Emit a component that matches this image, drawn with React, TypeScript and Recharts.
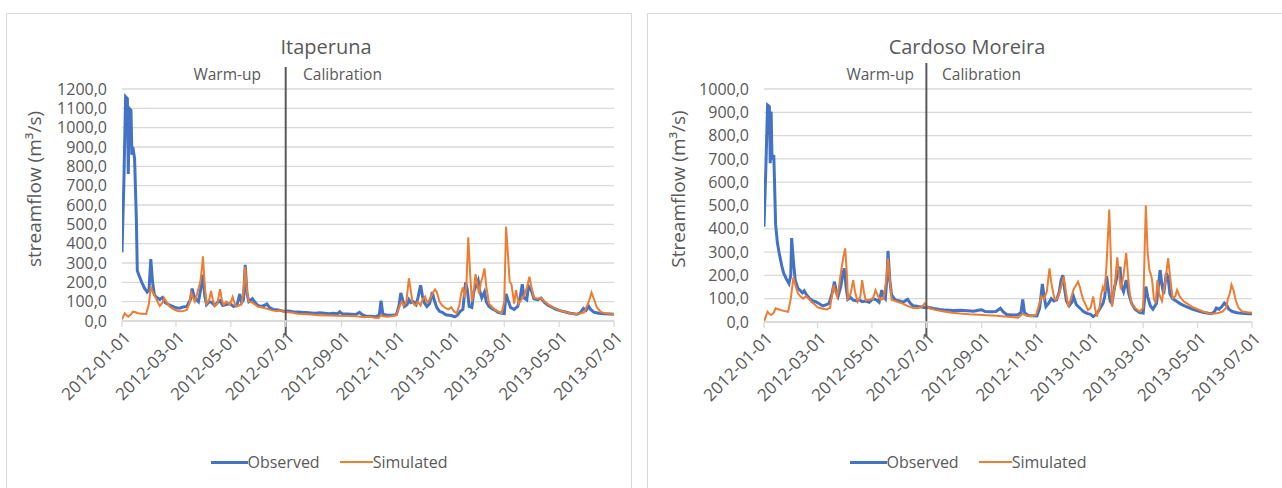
import { LineChart, Line, XAxis, YAxis, CartesianGrid, ReferenceLine } from "recharts";

// day 0 = 2012-01-01
const TICK_DAYS = [0, 60, 121, 182, 244, 305, 366, 425, 486, 547];
const TICK_LABELS = [
  "2012-01-01", "2012-03-01", "2012-05-01", "2012-07-01", "2012-09-01",
  "2012-11-01", "2013-01-01", "2013-03-01", "2013-05-01", "2013-07-01",
];
const SPLIT_DAY = 182;

const ITA_Y_TICKS = [0, 100, 200, 300, 400, 500, 600, 700, 800, 900, 1000, 1100, 1200];
const CM_Y_TICKS = [0, 100, 200, 300, 400, 500, 600, 700, 800, 900, 1000];

// Itaperuna
const itaObsDays = [
  0, 2, 4, 6, 7, 8, 10, 11, 12, 14, 16, 17, 19, 22, 25, 28, 30, 32, 34, 36, 39, 42, 45, 48, 52, 55, 60, 64, 68, 72,
  76, 78, 80, 83, 85, 87, 89, 90, 92, 94, 97, 100, 103, 106, 109, 112, 116, 120, 124, 128, 131, 133, 135, 137, 139,
  141, 145, 148, 151, 155, 158, 161, 164, 168, 172, 176, 180, 185, 190, 195, 200, 205, 210, 215, 220, 225, 230, 235,
  240, 242, 245, 250, 255, 260, 264, 267, 271, 276, 282, 286, 288, 290, 295, 300, 305, 308, 310, 312, 314, 317, 319,
  321, 324, 327, 329, 332, 334, 336, 339, 342, 345, 347, 350, 353, 356, 360, 363, 366, 370, 373, 376, 379, 382, 384,
  386, 389, 391, 393, 396, 398, 400, 403, 405, 408, 412, 415, 418, 422, 425, 427, 429, 432, 436, 440, 443, 445, 447,
  450, 452, 455, 458, 462, 466, 470, 474, 478, 482, 486, 490, 494, 498, 502, 506, 510, 513, 516, 519, 521, 525, 530,
  536, 542, 547,
];
const itaObsFlow = [
  355, 700, 1160, 1150, 760, 1100, 1090, 860, 900, 840, 520, 260, 235, 200, 170, 150, 160, 320, 200, 135, 120, 112, 122, 95, 85, 78, 68, 66, 72, 75,
  110, 168, 130, 110, 100, 150, 200, 240, 130, 85, 100, 95, 80, 95, 105, 80, 85, 90, 75, 85, 140, 95, 110, 290, 140,
  100, 115, 95, 80, 75, 80, 88, 70, 60, 58, 55, 50, 52, 48, 47, 45, 44, 42, 40, 42, 40, 38, 40,
  38, 48, 37, 36, 35, 34, 45, 33, 25, 24, 22, 30, 105, 35, 30, 30, 33, 80, 145, 110, 75, 85, 110,
  95, 100, 85, 120, 185, 130, 95, 75, 90, 150, 110, 70, 50, 45, 32, 30, 28, 22, 30, 50, 60, 200, 160,
  75, 70, 150, 175, 210, 150, 120, 150, 100, 75, 62, 55, 45, 40, 38, 140, 110, 70, 60, 75, 130, 190, 120,
  110, 180, 160, 115, 110, 118, 95, 80, 72, 62, 55, 50, 45, 40, 38, 35, 45, 65, 55, 75, 60, 45, 40,
  37, 36, 35,
];
const itaSimDays = [
  0, 3, 5, 7, 10, 12, 15, 18, 22, 27, 30, 32, 34, 37, 40, 42, 45, 47, 50, 53, 57, 62, 67, 72, 75, 77, 79, 81, 84, 87,
  89, 90, 92, 94, 97, 99, 101, 103, 106, 109, 111, 113, 116, 120, 123, 125, 127, 130, 133, 135, 137, 139, 141, 145,
  148, 151, 156, 160, 163, 167, 172, 176, 180, 185, 190, 195, 200, 210, 220, 230, 240, 250, 260, 270, 275, 280, 285,
  288, 290, 295, 300, 305, 308, 311, 313, 316, 319, 321, 323, 326, 329, 332, 334, 337, 339, 342, 345, 348, 350, 353,
  356, 360, 363, 366, 369, 372, 375, 377, 379, 381, 383, 385, 387, 389, 391, 393, 395, 397, 399, 401, 403, 405, 408,
  412, 415, 418, 422, 425, 427, 429, 431, 433, 436, 438, 441, 444, 447, 450, 453, 455, 458, 462, 466, 470, 474, 478,
  482, 486, 490, 494, 498, 502, 506, 510, 514, 517, 519, 522, 525, 528, 532, 536, 542, 547,
];
const itaSimFlow = [
  8, 40, 30, 22, 35, 48, 45, 40, 38, 36, 90, 178, 150, 125, 95, 78, 95, 118, 95, 75, 62, 52, 50, 57, 90, 145, 120, 100, 150, 200,
  280, 335, 180, 90, 110, 155, 110, 78, 90, 165, 110, 83, 100, 85, 125, 95, 74, 80, 90, 150, 280, 150, 100, 95,
  85, 74, 70, 65, 60, 55, 50, 55, 48, 45, 43, 38, 36, 33, 30, 28, 27, 26, 25, 20, 22, 18, 15,
  30, 25, 22, 25, 30, 70, 100, 80, 95, 221, 160, 95, 80, 100, 80, 110, 126, 95, 110, 140, 164, 150, 100,
  80, 66, 60, 71, 50, 40, 80, 140, 174, 120, 200, 433, 250, 100, 150, 243, 190, 140, 200, 230, 272, 180, 90,
  70, 57, 50, 40, 100, 488, 350, 203, 190, 90, 160, 90, 110, 130, 170, 229, 180, 120, 115, 119, 100, 85, 74,
  65, 55, 50, 45, 40, 36, 36, 40, 45, 80, 100, 148, 110, 70, 48, 41, 38, 36,
];

// Cardoso Moreira
const cmObsDays = [
  0, 2, 4, 6, 7, 8, 9, 11, 13, 15, 17, 20, 22, 25, 28, 30, 31, 33, 35, 38, 40, 43, 45, 48, 51, 55, 58, 62, 66, 70,
  73, 76, 79, 81, 83, 86, 88, 90, 92, 94, 97, 100, 104, 107, 110, 114, 118, 122, 126, 129, 132, 134, 136, 138, 139,
  141, 143, 146, 148, 152, 156, 158, 161, 164, 167, 170, 175, 180, 184, 190, 197, 204, 212, 220, 228, 235, 240, 244,
  248, 255, 260, 265, 268, 272, 278, 284, 288, 290, 292, 296, 300, 306, 309, 312, 314, 316, 319, 322, 325, 328, 331,
  333, 335, 337, 339, 342, 345, 347, 350, 354, 358, 362, 366, 369, 373, 377, 380, 382, 384, 386, 388, 390, 393, 396,
  399, 401, 403, 406, 409, 412, 416, 421, 425, 428, 430, 433, 436, 440, 442, 444, 446, 448, 451, 453, 455, 458, 462,
  466, 469, 474, 480, 486, 492, 498, 502, 505, 507, 510, 513, 516, 519, 521, 525, 530, 536, 542, 547,
];
const cmObsFlow = [
  409, 650, 931, 925, 681, 903, 695, 717, 420, 340, 296, 240, 210, 185, 165, 200, 360, 260, 180, 145, 137, 125, 134, 115, 101, 90, 87, 78, 69, 75,
  80, 120, 173, 130, 110, 150, 200, 230, 150, 97, 105, 94, 90, 95, 87, 90, 85, 100, 95, 85, 137, 110, 100, 200, 305,
  180, 116, 100, 94, 90, 85, 90, 97, 80, 70, 69, 65, 62, 63, 58, 54, 51, 49, 50, 48, 46, 50, 52,
  45, 44, 45, 59, 44, 32, 30, 30, 40, 97, 40, 28, 27, 26, 60, 163, 110, 66, 80, 100, 90, 95, 130,
  180, 201, 140, 90, 70, 85, 109, 75, 60, 45, 37, 33, 23, 35, 60, 80, 110, 197, 140, 90, 80, 150, 200,
  237, 150, 130, 180, 120, 80, 55, 40, 38, 152, 110, 70, 55, 80, 150, 223, 160, 120, 210, 190, 120, 100, 90,
  80, 73, 65, 55, 48, 42, 38, 36, 45, 60, 55, 65, 81, 70, 55, 45, 40, 37, 35, 35,
];
const cmSimDays = [
  0, 4, 6, 8, 11, 13, 16, 19, 23, 27, 30, 33, 35, 38, 41, 44, 47, 50, 53, 57, 60, 65, 70, 74, 76, 78, 80, 82, 84, 86,
  89, 91, 93, 94, 97, 100, 102, 105, 108, 110, 112, 114, 118, 122, 125, 128, 131, 134, 137, 139, 141, 143, 147, 151,
  155, 159, 163, 167, 172, 177, 180, 182, 186, 192, 200, 210, 220, 230, 240, 250, 260, 270, 280, 285, 290, 294, 300,
  305, 308, 311, 314, 317, 320, 322, 325, 327, 330, 333, 336, 338, 341, 344, 347, 350, 352, 354, 356, 358, 361, 363,
  366, 369, 371, 373, 376, 378, 380, 382, 384, 387, 389, 390, 393, 396, 398, 400, 403, 406, 408, 410, 412, 416, 421,
  425, 428, 430, 432, 434, 435, 437, 439, 441, 443, 446, 450, 453, 455, 458, 461, 463, 466, 470, 474, 480, 486, 492,
  498, 502, 506, 510, 514, 518, 520, 522, 524, 526, 529, 532, 536, 542, 547,
];
const cmSimFlow = [
  2, 44, 35, 30, 40, 59, 55, 51, 47, 44, 100, 191, 160, 123, 109, 100, 111, 100, 87, 75, 63, 58, 54, 60, 110, 159, 130, 109, 150, 209,
  280, 316, 200, 100, 120, 180, 130, 87, 110, 180, 130, 94, 95, 100, 137, 110, 95, 100, 180, 273, 180, 95, 90, 85,
  80, 72, 66, 60, 59, 65, 80, 70, 58, 52, 46, 40, 36, 33, 31, 29, 27, 24, 20, 18, 35, 28, 25,
  30, 70, 110, 100, 130, 230, 170, 110, 94, 110, 150, 194, 140, 66, 100, 140, 160, 173, 150, 120, 94, 70, 51,
  60, 109, 60, 23, 60, 120, 151, 130, 250, 483, 250, 66, 150, 277, 200, 140, 200, 297, 200, 120, 80, 60, 45,
  60, 500, 300, 223, 200, 180, 100, 81, 180, 120, 90, 180, 274, 200, 103, 110, 137, 110, 90, 80, 65, 55, 45,
  38, 35, 36, 40, 45, 60, 100, 120, 160, 140, 90, 60, 45, 42, 40,
];

const BLUE = "#4472C4";
const ORANGE = "#ED7D31";
const TEXT = "#595959";
const GRID = "#d9d9d9";
const FONT = "'Open Sans', sans-serif";

const toPoints = (days: number[], flow: number[]) => days.map((d, i) => ({ day: d, flow: flow[i] }));
const fmtFlow = (v: number) => v.toFixed(1).replace(".", ",");

function DateTick(props: any) {
  const { x, y, payload } = props;
  const i = TICK_DAYS.indexOf(payload.value);
  const tx = x + 5;
  const ty = y + 5;
  return (
    <text
      x={tx}
      y={ty}
      transform={`rotate(-45 ${tx} ${ty})`}
      textAnchor="end"
      dominantBaseline="central"
      fill={TEXT}
      fontSize={17}
      fontFamily={FONT}
    >
      {TICK_LABELS[i]}
    </text>
  );
}

function Panel(props: {
  left: number;
  title: string;
  yLabel: string;
  obs: { day: number; flow: number }[];
  sim: { day: number; flow: number }[];
  yTicks: number[];
  yAxisWidth: number;
  marginRight: number;
  marginBottom: number;
  lineTop: number;
  lineBottom: number;
  titleX: number;
  warmRight: number;
  calLeft: number;
  yLabelX: number;
  legendX: number;
}) {
  const yMax = props.yTicks[props.yTicks.length - 1];
  return (
    <div style={{ position: "absolute", left: props.left, top: 0, width: 640, height: 488 }}>
      <LineChart
        width={640}
        height={488}
        margin={{ top: 89, right: props.marginRight, bottom: props.marginBottom, left: 0 }}
      >
        <CartesianGrid vertical={false} stroke={GRID} strokeWidth={1.3} />
        <XAxis
          dataKey="day"
          type="number"
          domain={[0, 547]}
          ticks={TICK_DAYS}
          interval={0}
          height={60}
          stroke={GRID}
          strokeWidth={1.3}
          tickSize={6}
          tick={<DateTick />}
          allowDataOverflow
        />
        <YAxis
          dataKey="flow"
          type="number"
          domain={[0, yMax]}
          ticks={props.yTicks}
          interval={0}
          width={props.yAxisWidth}
          axisLine={false}
          tickLine={false}
          tickSize={0}
          tickMargin={15}
          tickFormatter={fmtFlow}
          tick={{ fill: TEXT, fontSize: 16, fontFamily: FONT }}
          allowDataOverflow
        />
        <Line
          data={props.obs}
          dataKey="flow"
          name="Observed"
          type="linear"
          stroke={BLUE}
          strokeWidth={3}
          dot={false}
          isAnimationActive={false}
        />
        <Line
          data={props.sim}
          dataKey="flow"
          name="Simulated"
          type="linear"
          stroke={ORANGE}
          strokeWidth={2}
          dot={false}
          isAnimationActive={false}
        />
        <ReferenceLine
          segment={[
            { x: SPLIT_DAY, y: props.lineBottom },
            { x: SPLIT_DAY, y: props.lineTop },
          ]}
          ifOverflow="visible"
          stroke="#595959"
          strokeWidth={2}
        />
      </LineChart>
      <div
        style={{
          position: "absolute",
          left: props.titleX - 150,
          width: 300,
          top: 33,
          textAlign: "center",
          fontFamily: FONT,
          fontSize: 20,
          color: TEXT,
          lineHeight: "28px",
        }}
      >
        {props.title}
      </div>
      <div
        style={{
          position: "absolute",
          right: 640 - props.warmRight,
          top: 63,
          fontFamily: FONT,
          fontSize: 15.5,
          color: TEXT,
          lineHeight: "22px",
          whiteSpace: "nowrap",
        }}
      >
        Warm-up
      </div>
      <div
        style={{
          position: "absolute",
          left: props.calLeft,
          top: 63,
          fontFamily: FONT,
          fontSize: 15.5,
          color: TEXT,
          lineHeight: "22px",
          whiteSpace: "nowrap",
        }}
      >
        Calibration
      </div>
      <div
        style={{
          position: "absolute",
          left: props.yLabelX - 150,
          top: 189 - 14,
          width: 300,
          height: 28,
          lineHeight: "28px",
          textAlign: "center",
          transform: "rotate(-90deg)",
          fontFamily: FONT,
          fontSize: 19,
          color: TEXT,
          whiteSpace: "nowrap",
        }}
      >
        {props.yLabel}
      </div>
      <div
        style={{
          position: "absolute",
          left: props.legendX - 200,
          width: 400,
          top: 450,
          display: "flex",
          justifyContent: "center",
          alignItems: "center",
          fontFamily: FONT,
          fontSize: 16,
          color: TEXT,
          lineHeight: "24px",
        }}
      >
        <span style={{ display: "inline-block", width: 37, height: 3, background: BLUE }} />
        <span>Observed</span>
        <span style={{ display: "inline-block", width: 33, height: 2, background: ORANGE, marginLeft: 20 }} />
        <span>Simulated</span>
      </div>
    </div>
  );
}

export default function App() {
  return (
    <div
      style={{
        position: "absolute",
        left: 0,
        top: 0,
        width: 1282,
        height: 488,
        background: "#fff",
        overflow: "hidden",
      }}
    >
      <div
        style={{
          position: "absolute",
          left: 6,
          top: 13,
          width: 624,
          height: 490,
          border: `1px solid ${GRID}`,
        }}
      />
      <div
        style={{
          position: "absolute",
          left: 647,
          top: 13,
          width: 650,
          height: 490,
          border: `1px solid ${GRID}`,
        }}
      />
      <Panel
        left={0}
        title="Itaperuna"
        yLabel="streamflow (m³/s)"
        obs={toPoints(itaObsDays, itaObsFlow)}
        sim={toPoints(itaSimDays, itaSimFlow)}
        yTicks={ITA_Y_TICKS}
        yAxisWidth={122}
        marginRight={26}
        marginBottom={107}
        lineTop={1314}
        lineBottom={-72}
        titleX={326}
        warmRight={261}
        calLeft={303}
        yLabelX={34}
        legendX={329}
      />
      <Panel
        left={640}
        title="Cardoso Moreira"
        yLabel="Streamflow (m³/s)"
        obs={toPoints(cmObsDays, cmObsFlow)}
        sim={toPoints(cmSimDays, cmSimFlow)}
        yTicks={CM_Y_TICKS}
        yAxisWidth={124}
        marginRight={28}
        marginBottom={106}
        lineTop={1112}
        lineBottom={-64}
        titleX={327}
        warmRight={274}
        calLeft={302}
        yLabelX={38}
        legendX={328}
      />
    </div>
  );
}
